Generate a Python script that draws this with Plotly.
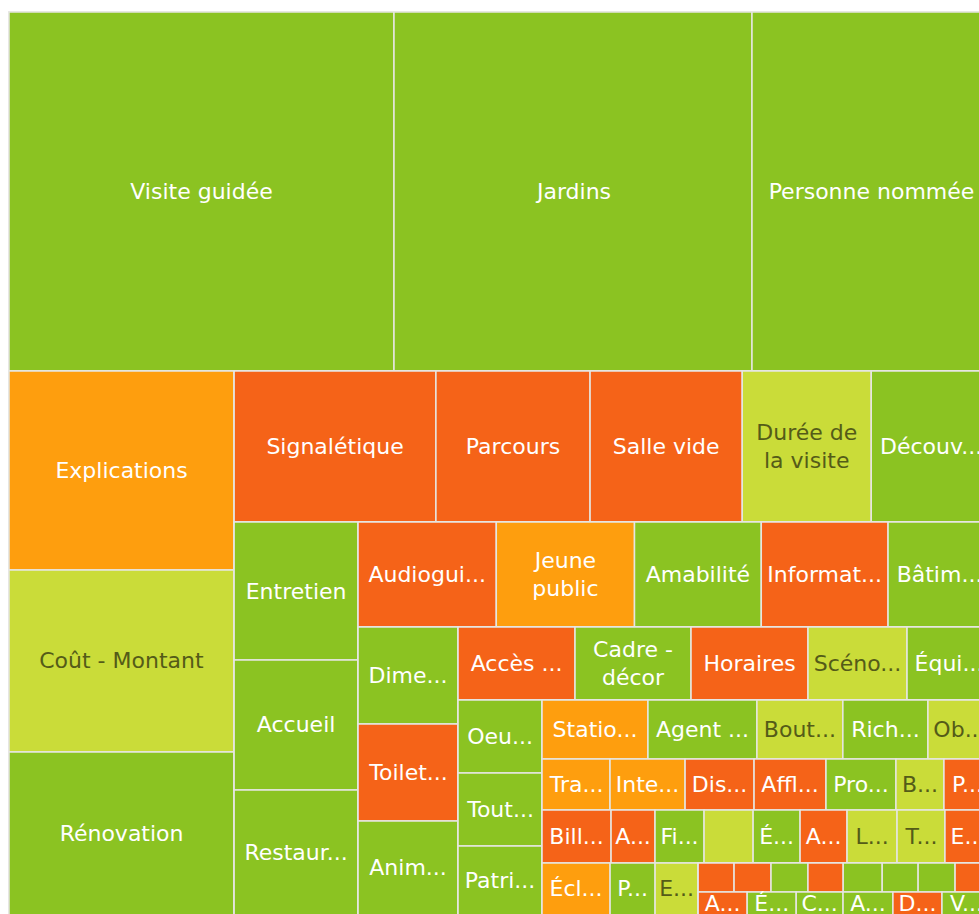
import plotly.graph_objects as go

# Colour per tone: P = positive, N = neutral, M = mitigé, X = négatif
TONE_COLORS = {"P": "#8bc322", "N": "#cadc39", "M": "#fe9e0e", "X": "#f56318"}
TONE_TEXT = {"P": "#ffffff", "N": "#545b18", "M": "#ffffff", "X": "#ffffff"}

# ---- data (values read from the tile areas) ----
row1_labels = ["Visite guidée", "Jardins", "Personne nommée"]
row1_values = [1382, 1285, 858]
row1_tones = ["P", "P", "P"]

col2_labels = ["Explications", "Coût - Montant", "Rénovation"]
col2_values = [448, 410, 367]
col2_tones = ["M", "N", "P"]

row3_labels = ["Signalétique", "Parcours", "Salle vide", "Durée de<br>la visite", "Découv..."]
row3_values = [305, 233, 230, 195, 181]
row3_tones = ["X", "X", "X", "N", "P"]

col4_labels = ["Entretien", "Accueil", "Restaur..."]
col4_values = [171, 161, 155]
col4_tones = ["P", "P", "P"]

row5_labels = ["Audiogui...", "Jeune<br>public", "Amabilité", "Informat...", "Bâtim..."]
row5_values = [145, 145, 133, 133, 108]
row5_tones = ["X", "M", "P", "X", "P"]

col6_labels = ["Dime...", "Toilet...", "Anim..."]
col6_values = [97, 97, 94]
col6_tones = ["P", "X", "P"]

row7_labels = ["Accès ...", "Cadre -<br>décor", "Horaires", "Scéno...", "Équi..."]
row7_values = [85.4, 84.7, 85.4, 72.3, 61.3]
row7_tones = ["X", "P", "X", "N", "P"]

col8_labels = ["Oeu...", "Tout...", "Patri..."]
col8_values = [61.3, 61.3, 58.0]
col8_tones = ["P", "P", "P"]

row9_labels = ["Statio...", "Agent ...", "Bout...", "Rich...", "Ob..."]
row9_values = [62.5, 64.3, 50.7, 50.2, 37.2]
row9_tones = ["M", "P", "N", "P", "N"]

row10_labels = ["Tra...", "Inte...", "Dis...", "Affl...", "Pro...", "B...", "P..."]
row10_values = [34.7, 38.3, 35.2, 36.7, 35.7, 24.5, 24.0]
row10_tones = ["M", "M", "X", "X", "P", "N", "X"]

row11_labels = ["Bill...", "A...", "Fi...", "", "É...", "A...", "L...", "T...", "E..."]
row11_values = [36.6, 23.3, 26.0, 26.0, 24.9, 24.9, 26.5, 25.4, 24.4]
row11_tones = ["X", "X", "P", "N", "P", "X", "N", "N", "X"]

row12_labels = ["Écl...", "P...", "E..."]
row12_values = [35.4, 23.4, 22.4]
row12_tones = ["M", "P", "N"]

sub_a_labels = ["", "", "", "", "", "", "", ""]
sub_a_values = [10.4, 10.7, 10.7, 10.2, 11.3, 10.4, 10.7, 10.4]
sub_a_tones = ["X", "X", "P", "X", "P", "P", "P", "X"]

sub_b_labels = ["A...", "É...", "C...", "A...", "D...", "V..."]
sub_b_values = [11.3, 11.3, 10.8, 11.5, 11.3, 11.3]
sub_b_tones = ["X", "P", "P", "P", "X", "P"]

# ---- build the hierarchy the treemap needs ----
ids, labels, parents, values, colors, texts, tcolors = [], [], [], [], [], [], []


def add(node_id, parent, text, value, tone=None):
    ids.append(node_id)
    labels.append(node_id)
    parents.append(parent)
    values.append(value)
    texts.append(text)
    colors.append(TONE_COLORS[tone] if tone else "#ffffff")
    tcolors.append(TONE_TEXT[tone] if tone else "#ffffff")


def add_leaves(gid, labs, vals, tones):
    for k, (l, v, t) in enumerate(zip(labs, vals, tones)):
        add(f"{gid}-{k}", gid, l, v, t)


add("root", "", "", 0)
chain = [
    (row1_labels, row1_values, row1_tones),
    (col2_labels, col2_values, col2_tones),
    (row3_labels, row3_values, row3_tones),
    (col4_labels, col4_values, col4_tones),
    (row5_labels, row5_values, row5_tones),
    (col6_labels, col6_values, col6_tones),
    (row7_labels, row7_values, row7_tones),
    (col8_labels, col8_values, col8_tones),
]
parent = "root"
for i, (labs, vals, tones) in enumerate(chain):
    gid, rid = f"g{i+1}", f"r{i+1}"
    add(gid, parent, "", 0)
    add_leaves(gid, labs, vals, tones)
    add(rid, parent, "", 0)
    parent = rid

for gid, (labs, vals, tones) in zip(
    ["g9", "g10", "g11"],
    [(row9_labels, row9_values, row9_tones),
     (row10_labels, row10_values, row10_tones),
     (row11_labels, row11_values, row11_tones)],
):
    add(gid, parent, "", 0)
    add_leaves(gid, labs, vals, tones)

add("g12", parent, "", 0)
add_leaves("g12", row12_labels, row12_values, row12_tones)
add("g13", "g12", "", 0)
add("g14", "g13", "", 0)
add_leaves("g14", sub_a_labels, sub_a_values, sub_a_tones)
add("g15", "g13", "", 0)
add_leaves("g15", sub_b_labels, sub_b_values, sub_b_tones)

fig = go.Figure(
    go.Treemap(
        ids=ids,
        labels=labels,
        parents=parents,
        values=values,
        text=texts,
        textinfo="text",
        branchvalues="remainder",
        sort=False,
        marker=dict(
            colors=colors,
            line=dict(color="#e6e6e2", width=1.5),
            pad=dict(t=0, l=0, r=0, b=0),
            depthfade=False,
        ),
        tiling=dict(packing="dice-slice", pad=0),
        pathbar=dict(visible=False),
        textposition="middle center",
        textfont=dict(family="DejaVu Sans, Roboto, sans-serif", size=22, color=tcolors),
        hoverinfo="skip",
        root=dict(color="#ffffff"),
    )
)

fig.update_layout(
    width=991,
    height=915,
    margin=dict(l=9, t=12, r=0, b=0),
    paper_bgcolor="#ffffff",
    showlegend=False,
    uniformtext=dict(minsize=22, mode="show"),
)

fig.write_html(
    "out.html",
    config={"displayModeBar": False},
    post_script=(
        "document.body.style.margin='0';"
        "document.body.style.overflow='hidden';"
        "document.documentElement.style.overflow='hidden';"
    ),
)
